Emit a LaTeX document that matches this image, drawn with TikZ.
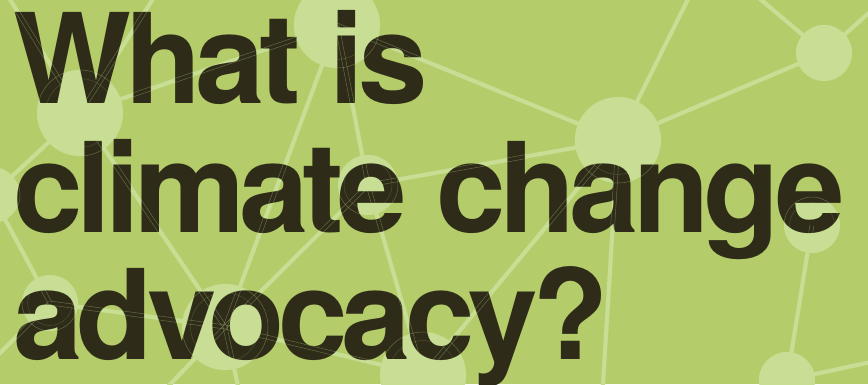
\documentclass[tikz,border=0pt]{standalone}
\usepackage{fontspec}
\newfontfamily\titlefont[LetterSpace=-4.8]{TeX Gyre Heros}
\usetikzlibrary{calc}
\definecolor{bg}{HTML}{B4CD6A}
\definecolor{lite}{HTML}{C7DE94}
\definecolor{ink}{HTML}{2E2C18}
\begin{document}
\begin{tikzpicture}[x=1pt,y=-1pt,
  dot/.style={circle,fill=lite,inner sep=0pt,outer sep=0pt,minimum size=#1},
  edge/.style={draw=lite,line width=4pt},
  outl/.style={draw=lite,line width=0.5pt,opacity=0.35},
  title/.style={anchor=base west,inner sep=0pt,text=ink,
    font=\titlefont\bfseries\fontsize{125}{128}\selectfont}]
\useasboundingbox (0,0) rectangle (868,384);
\fill[bg] (0,0) rectangle (868,384);
\clip (0,0) rectangle (868,384);
% network nodes
\foreach \n/\x/\y/\r in {A/80/113/43, B/337/25/43, C/-8/195/28, D/50/303/28,
  E/225/327/43, F/368/185/30, G/423/375/43, H/618/140/43, I/824/53/28,
  J/812/225/28, K/787/380/28}
  {\node[dot=2*\r pt] (\n) at (\x,\y) {};}
% free ends
\coordinate (c1) at (-2,-20);
\coordinate (c2) at (160,-12);
\coordinate (c3) at (695,-15);
\coordinate (c4) at (740,-18);
\coordinate (c5) at (890,-6);
\coordinate (c7) at (-15,368);
\coordinate (c8) at (160,395);
\coordinate (c9) at (240,395);
\coordinate (c10) at (602,400);
\coordinate (c11) at (890,358);
\def\edgelist{A/c1, A/c2, A/B, A/C, A/E, B/E, B/F, B/H, C/D, D/E, D/c7, E/F, E/G,
  E/c8, E/c9, F/H, F/G, G/H, H/c3, H/I, H/c10, I/c4, I/c5, J/K, K/c11}
\foreach \a/\b in \edgelist {\draw[edge] (\a.center) -- (\b.center);}
% title
\node[title] (t1) at (13,103) {What is};
\node[title] (t2) at (13,232) {climate change};
\node[title] (t3) at (13,359) {advocacy?};
% faint outlines showing through the text
\foreach \a/\b in \edgelist {
  \draw[outl] ($(\a.center)!2pt!90:(\b.center)$) -- ($(\b.center)!2pt!-90:(\a.center)$);
  \draw[outl] ($(\a.center)!2pt!-90:(\b.center)$) -- ($(\b.center)!2pt!90:(\a.center)$);
}
\foreach \n/\r in {A/43, B/43, C/28, D/28, E/43, F/30, G/43, H/43, I/28, J/28, K/28}
  {\draw[outl] (\n.center) circle (\r pt);
   \draw[outl,opacity=0.2] (\n.center) circle (0.8*\r pt);}
\end{tikzpicture}
\end{document}
